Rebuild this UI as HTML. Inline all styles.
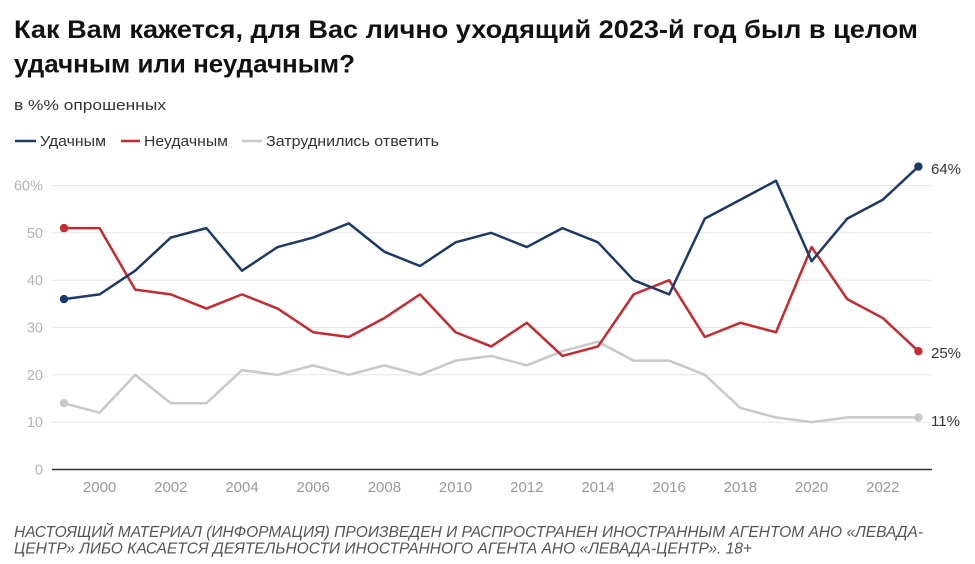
<!DOCTYPE html>
<html>
<head>
<meta charset="utf-8">
<style>
html,body{margin:0;padding:0;background:#fff;}
svg{display:block;}
text{font-family:"Liberation Sans","DejaVu Sans",sans-serif;}
</style>
</head>
<body>
<svg width="975" height="564" viewBox="0 0 975 564" xmlns="http://www.w3.org/2000/svg">
<rect width="975" height="564" fill="#fff"/>
<!-- Title -->
<text x="14" y="38" font-size="25" font-weight="bold" fill="#111" textLength="904" lengthAdjust="spacingAndGlyphs">Как Вам кажется, для Вас лично уходящий 2023-й год был в целом</text>
<text x="14" y="72.5" font-size="25" font-weight="bold" fill="#111" textLength="341" lengthAdjust="spacingAndGlyphs">удачным или неудачным?</text>
<!-- Subtitle -->
<text x="14" y="110" font-size="15" fill="#333" textLength="152" lengthAdjust="spacingAndGlyphs">в %% опрошенных</text>
<!-- Legend -->
<line x1="15" y1="141" x2="36" y2="141" stroke="#1b3a6a" stroke-width="2.5"/>
<text x="40" y="146" font-size="14.5" fill="#333" textLength="66" lengthAdjust="spacingAndGlyphs">Удачным</text>
<line x1="121" y1="141" x2="140" y2="141" stroke="#c62a2f" stroke-width="2.5"/>
<text x="144" y="146" font-size="14.5" fill="#333" textLength="84" lengthAdjust="spacingAndGlyphs">Неудачным</text>
<line x1="242" y1="141" x2="262" y2="141" stroke="#c8c8c8" stroke-width="2.5"/>
<text x="266" y="146" font-size="14.5" fill="#333" textLength="173" lengthAdjust="spacingAndGlyphs">Затруднились ответить</text>
<!-- Gridlines -->
<g stroke="#e6e6e6" stroke-width="1">
<line x1="52" y1="185.5" x2="931" y2="185.5"/>
<line x1="52" y1="232.8" x2="931" y2="232.8"/>
<line x1="52" y1="280.2" x2="931" y2="280.2"/>
<line x1="52" y1="327.5" x2="931" y2="327.5"/>
<line x1="52" y1="374.8" x2="931" y2="374.8"/>
<line x1="52" y1="422.2" x2="931" y2="422.2"/>
</g>
<line x1="52" y1="469.5" x2="932" y2="469.5" stroke="#333" stroke-width="1.5"/>
<!-- Y labels -->
<g font-size="14.5" fill="#b3b3b3" text-anchor="end">
<text x="43" y="190.5">60%</text>
<text x="43" y="237.8">50</text>
<text x="43" y="285.2">40</text>
<text x="43" y="332.5">30</text>
<text x="43" y="379.8">20</text>
<text x="43" y="427.2">10</text>
<text x="43" y="474.5">0</text>
</g>
<!-- X labels -->
<g font-size="15" fill="#999" text-anchor="middle">
<text x="99.6" y="492">2000</text>
<text x="170.8" y="492">2002</text>
<text x="242" y="492">2004</text>
<text x="313.2" y="492">2006</text>
<text x="384.4" y="492">2008</text>
<text x="455.6" y="492">2010</text>
<text x="526.8" y="492">2012</text>
<text x="598" y="492">2014</text>
<text x="669.2" y="492">2016</text>
<text x="740.4" y="492">2018</text>
<text x="811.6" y="492">2020</text>
<text x="882.8" y="492">2022</text>
</g>
<!-- Series -->
<g transform="translate(64,469.5) scale(35.6,-4.733)" fill="none" stroke-linejoin="round" stroke-linecap="round">
<polyline vector-effect="non-scaling-stroke" stroke="#c8c8c8" stroke-width="2.5" points="0,14 1,12 2,20 3,14 4,14 5,21 6,20 7,22 8,20 9,22 10,20 11,23 12,24 13,22 14,25 15,27 16,23 17,23 18,20 19,13 20,11 21,10 22,11 23,11 24,11"/>
<polyline vector-effect="non-scaling-stroke" stroke="#c62a2f" stroke-width="2.5" points="0,51 1,51 2,38 3,37 4,34 5,37 6,34 7,29 8,28 9,32 10,37 11,29 12,26 13,31 14,24 15,26 16,37 17,40 18,28 19,31 20,29 21,47 22,36 23,32 24,25"/>
<polyline vector-effect="non-scaling-stroke" stroke="#1b3a6a" stroke-width="2.5" points="0,36 1,37 2,42 3,49 4,51 5,42 6,47 7,49 8,52 9,46 10,43 11,48 12,50 13,47 14,51 15,48 16,40 17,37 18,53 19,57 20,61 21,44 22,53 23,57 24,64"/>
</g>
<!-- Dots -->
<circle cx="64" cy="403.2" r="4.2" fill="#c8c8c8"/>
<circle cx="918.4" cy="417.4" r="4.2" fill="#c8c8c8"/>
<circle cx="64" cy="228.1" r="4.2" fill="#c62a2f"/>
<circle cx="918.4" cy="351.2" r="4.2" fill="#c62a2f"/>
<circle cx="64" cy="299.1" r="4.2" fill="#1b3a6a"/>
<circle cx="918.4" cy="166.6" r="4.2" fill="#1b3a6a"/>
<!-- End labels -->
<g font-size="15" fill="#333">
<text x="931" y="174">64%</text>
<text x="931" y="358">25%</text>
<text x="931" y="426">11%</text>
</g>
<!-- Footer -->
<text x="14" y="537" font-size="15.5" font-style="italic" fill="#555" textLength="909" lengthAdjust="spacingAndGlyphs">НАСТОЯЩИЙ МАТЕРИАЛ (ИНФОРМАЦИЯ) ПРОИЗВЕДЕН И РАСПРОСТРАНЕН ИНОСТРАННЫМ АГЕНТОМ АНО «ЛЕВАДА-</text>
<text x="14" y="553.5" font-size="15.5" font-style="italic" fill="#555" textLength="738" lengthAdjust="spacingAndGlyphs">ЦЕНТР» ЛИБО КАСАЕТСЯ ДЕЯТЕЛЬНОСТИ ИНОСТРАННОГО АГЕНТА АНО «ЛЕВАДА-ЦЕНТР». 18+</text>
</svg>
</body>
</html>
